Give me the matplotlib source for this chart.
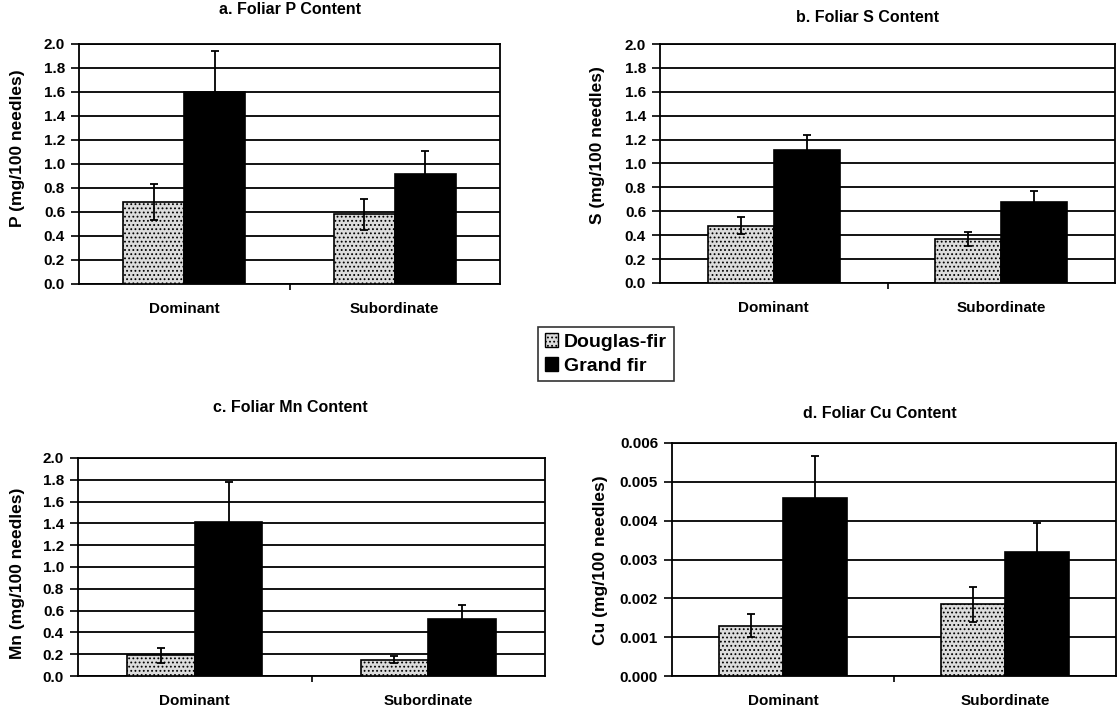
import numpy as np
import matplotlib.pyplot as plt
from matplotlib.patches import Patch
from matplotlib.ticker import FormatStrFormatter

plt.rcParams['font.family'] = ['Liberation Sans', 'DejaVu Sans']
plt.rcParams['font.weight'] = 'bold'
plt.rcParams['hatch.linewidth'] = 0.8

# data
categories = ["Dominant", "Subordinate"]
species = ["Douglas-fir", "Grand fir"]

p_df = [0.68, 0.58]
p_df_err = [0.15, 0.13]
p_gf = [1.60, 0.92]
p_gf_err = [0.34, 0.19]

s_df = [0.48, 0.37]
s_df_err = [0.07, 0.06]
s_gf = [1.11, 0.68]
s_gf_err = [0.13, 0.09]

mn_df = [0.19, 0.15]
mn_df_err = [0.07, 0.03]
mn_gf = [1.41, 0.52]
mn_gf_err = [0.37, 0.13]

cu_df = [0.0013, 0.00185]
cu_df_err = [0.0003, 0.00045]
cu_gf = [0.00458, 0.0032]
cu_gf_err = [0.00108, 0.00075]

panels = [
    ("a. Foliar P Content", "P (mg/100 needles)", p_df, p_df_err, p_gf, p_gf_err,
     (0, 2.0, 0.2), "%.1f"),
    ("b. Foliar S Content", "S (mg/100 needles)", s_df, s_df_err, s_gf, s_gf_err,
     (0, 2.0, 0.2), "%.1f"),
    ("c. Foliar Mn Content", "Mn (mg/100 needles)", mn_df, mn_df_err, mn_gf, mn_gf_err,
     (0, 2.0, 0.2), "%.1f"),
    ("d. Foliar Cu Content", "Cu (mg/100 needles)", cu_df, cu_df_err, cu_gf, cu_gf_err,
     (0, 0.006, 0.001), "%.3f"),
]

W, H = 1117, 714
# axes boxes in pixels: left, right, top, bottom
boxes = [(79, 500, 44, 284), (660, 1115, 44, 283), (78, 545, 458, 676), (672, 1116, 443, 676)]
title_pos = [(290, 10), (867, 17), (290, 407), (880, 413)]
ylabel_x = [25, 605, 25, 608]
ylabel_y = [148, 145, 573, 560]

fig = plt.figure(figsize=(W / 100, H / 100), dpi=100)

x = np.arange(len(categories))
width = 0.29

for (title, ylabel, df, df_err, gf, gf_err, (lo, hi, step), fmt), (l, r, t, b), (tx, ty), yx, yy in zip(
        panels, boxes, title_pos, ylabel_x, ylabel_y):
    ax = fig.add_axes([l / W, 1 - b / H, (r - l) / W, (b - t) / H])
    ax.bar(x - width / 2, df, width, color="#dcdcdc", edgecolor="black", linewidth=1.2,
           hatch="....", zorder=3)
    ax.bar(x + width / 2, gf, width, color="black", edgecolor="black", linewidth=1.2, zorder=3)
    ax.errorbar(x - width / 2, df, yerr=df_err, fmt="none", ecolor="black", elinewidth=1.3,
                capsize=3, capthick=1.3, zorder=4)
    ax.errorbar(x + width / 2, gf, yerr=gf_err, fmt="none", ecolor="black", elinewidth=1.3,
                capsize=3, capthick=1.3, zorder=4)

    ax.set_xlim(-0.5, 1.5)
    ax.set_ylim(lo, hi)
    ax.set_yticks(np.arange(lo, hi + step / 2, step))
    ax.yaxis.set_major_formatter(FormatStrFormatter(fmt))
    ax.yaxis.grid(True, color="black", linewidth=1.3, zorder=0)
    ax.set_axisbelow(True)
    ax.set_xticks(x)
    ax.set_xticklabels(categories, fontsize=11, fontweight="bold")
    ax.set_xticks([0.5], minor=True)
    ax.tick_params(axis="x", which="major", length=0, pad=13)
    ax.tick_params(axis="x", which="minor", length=4, width=1.2)
    ax.tick_params(axis="y", length=6, width=1.2, labelsize=11, pad=4)
    for lab in ax.get_yticklabels():
        lab.set_fontweight("bold")
    for sp in ax.spines.values():
        sp.set_linewidth(1.3)
        sp.set_color("black")

    ax.set_ylabel(ylabel, fontsize=12.5, fontweight="bold")
    ax.yaxis.set_label_coords((yx - l) / (r - l), (b - yy) / (b - t))
    fig.text(tx / W, 1 - ty / H, title, ha="center", va="center", fontsize=11.5,
             fontweight="bold")

handles = [Patch(facecolor="#dcdcdc", edgecolor="black", hatch="....", label=species[0]),
           Patch(facecolor="black", edgecolor="black", label=species[1])]
leg = fig.legend(handles=handles, loc="center", bbox_to_anchor=(606 / W, 1 - 354 / H),
                 frameon=True, fancybox=False, edgecolor="black",
                 prop={"weight": "bold", "size": 14}, handlelength=0.7, handleheight=0.7,
                 handletextpad=0.3, borderpad=0.35, labelspacing=0.3)
leg.get_frame().set_linewidth(1.2)

fig.savefig("out.png", dpi=100)
